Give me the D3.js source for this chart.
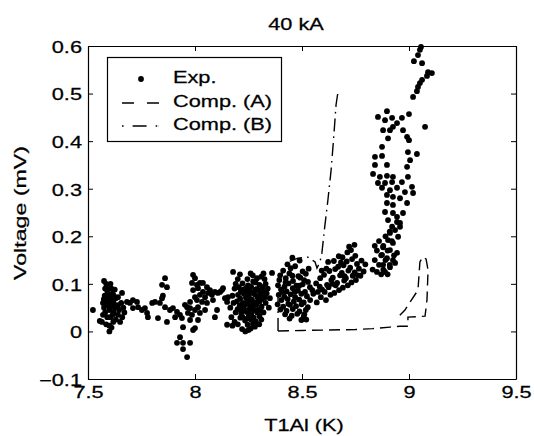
<!DOCTYPE html>
<html>
<head>
<meta charset="utf-8">
<script src="https://cdn.jsdelivr.net/npm/d3@7"></script>
<style>
  body { margin: 0; background: #fff; }
  svg { display: block; }
  text { font-family: "Liberation Sans", Arial, Helvetica, sans-serif; fill: #000; stroke: #000; stroke-width: 0.25px; }
</style>
</head>
<body>
<svg id="chart" width="534" height="436"></svg>
<script>
// axis setup
var xTicks = [7.5, 8, 8.5, 9, 9.5];
var xTickLabels = ["7.5", "8", "8.5", "9", "9.5"];
var yTicks = [-0.1, 0, 0.1, 0.2, 0.3, 0.4, 0.5, 0.6];
var yTickLabels = ["\u22120.1", "0", "0.1", "0.2", "0.3", "0.4", "0.5", "0.6"];
var legendLabels = ["Exp.", "Comp. (A)", "Comp. (B)"];

var expLeft = [[7.523,0.045],[7.555,0.022],[7.565,0.02],[7.575,0.106],[7.58,0.09],[7.585,0.1],[7.578,0.075],
  [7.57,0.06],[7.575,0.05],[7.58,0.04],[7.59,0.085],[7.59,0.065],[7.595,0.055],[7.6,0.07],[7.6,0.045],
  [7.605,0.03],[7.59,0.03],[7.6,0.012],[7.6,0.0],[7.61,0.008],[7.61,0.09],[7.605,0.1],[7.615,0.08],
  [7.62,0.06],[7.62,0.04],[7.625,0.05],[7.63,0.07],[7.63,0.025],[7.64,0.035],[7.64,0.055],[7.645,0.045],
  [7.65,0.02],[7.655,0.06],[7.66,0.03],[7.665,0.05],[7.67,0.04],[7.57,0.035],[7.585,0.015],[7.6,0.055],
  [7.612,0.068],[7.618,0.02],[7.625,0.088],[7.64,0.072],[7.659,0.081],[7.595,0.078],[7.585,0.058],
  [7.61,0.052],[7.62,0.075],[7.615,0.035],[7.592,0.092],[7.607,0.061],[7.574,0.068]];
var expBand = [[7.682,0.062],[7.696,0.06],[7.71,0.066],[7.729,0.062],[7.734,0.051],[7.71,0.049],
  [7.752,0.045],[7.766,0.049],[7.776,0.039],[7.78,0.03],[7.8,0.06],[7.813,0.062],[7.827,0.028],
  [7.836,0.06],[7.846,0.07],[7.86,0.051],[7.869,0.02],[7.883,0.045],[7.897,0.049],[7.907,0.03],
  [7.916,0.041],[7.93,0.035],[7.939,0.028],[7.86,0.112],[7.846,0.098],[7.869,0.093],[7.85,0.075]];
var expDip = [[7.93,-0.012],[7.916,-0.024],[7.944,-0.024],[7.977,-0.024],[7.944,-0.037],[7.963,-0.054],[7.944,0.009]];
var expNear8 = [[7.977,0.062],[7.986,0.102],[7.991,0.119],[8.0,0.112],[8.009,0.098],[8.014,0.091],
  [7.991,0.087],[8.0,0.072],[8.009,0.066],[8.023,0.077],[8.033,0.062],[8.014,0.051],[8.0,0.045],
  [7.986,0.035],[7.977,0.049],[7.991,0.003],[8.0,0.007],[8.014,0.024],[8.023,0.039],[8.037,0.083],
  [8.047,0.072],[8.056,0.06],[8.047,0.045],[8.061,0.081],[8.07,0.087],[8.079,0.077],[8.084,0.066],
  [8.093,0.083],[8.103,0.045],[8.093,0.03],[8.023,0.102],[8.037,0.102],[8.056,0.093],[7.963,0.051],
  [7.967,0.039],[7.953,0.056],[7.977,0.024],[8.107,0.081],[8.117,0.083],[8.126,0.087],[8.131,0.091],
  [8.14,0.07],[8.15,0.062],[8.154,0.072],[8.178,0.125],[8.15,0.014]];
var expMain = [[8.222,0.101],[8.248,0.097],[8.283,0.103],[8.301,0.098],[8.205,0.093],[8.237,0.09],
  [8.262,0.094],[8.288,0.089],[8.316,0.093],[8.214,0.084],[8.247,0.086],[8.268,0.082],[8.298,0.087],
  [8.322,0.083],[8.201,0.077],[8.228,0.079],[8.252,0.075],[8.279,0.078],[8.307,0.076],[8.211,0.069],
  [8.238,0.071],[8.266,0.067],[8.292,0.072],[8.314,0.068],[8.196,0.063],[8.223,0.06],[8.251,0.064],
  [8.276,0.061],[8.302,0.063],[8.209,0.054],[8.236,0.057],[8.258,0.053],[8.286,0.056],[8.311,0.052],
  [8.199,0.047],[8.227,0.049],[8.249,0.045],[8.271,0.048],[8.296,0.046],[8.216,0.039],[8.242,0.041],
  [8.263,0.037],[8.291,0.04],[8.221,0.031],[8.252,0.033],[8.274,0.029],[8.301,0.032],[8.234,0.023],
  [8.261,0.025],[8.284,0.021],[8.246,0.014],[8.271,0.016],[8.165,0.05],[8.17,0.03],[8.175,0.075],
  [8.18,0.06],[8.185,0.09],[8.19,0.04],[8.19,0.1],[8.175,0.012],[8.2,0.015],[8.185,0.02],[8.22,0.005],
  [8.235,0.0],[8.25,0.003],[8.26,0.006],[8.28,0.01],[8.3,0.015],[8.31,0.025],[8.32,0.04],
  [8.33,0.06],[8.335,0.08],[8.33,0.1],[8.325,0.11],[8.31,0.115],[8.29,0.112],[8.27,0.118],
  [8.245,0.11],[8.26,0.122],[8.32,0.122],[8.34,0.09],[8.345,0.05],[8.35,0.07],[8.2,0.11],
  [8.21,0.12],[8.36,0.123],[8.237,0.083],[8.262,0.064],[8.282,0.088],[8.232,0.058],[8.257,0.036],
  [8.307,0.043],[8.212,0.029],[8.272,0.105],[8.243,0.068],[8.268,0.052],[8.293,0.062],[8.226,0.088],
  [8.255,0.085],[8.278,0.044],[8.218,0.045],[8.304,0.081],[8.246,0.028],[8.327,0.072]];
var expMid = [[8.432,0.141],[8.468,0.137],[8.412,0.128],[8.447,0.133],[8.503,0.126],[8.398,0.118],
  [8.441,0.122],[8.483,0.116],[8.518,0.121],[8.394,0.108],[8.424,0.112],[8.458,0.106],[8.492,0.113],
  [8.528,0.104],[8.388,0.097],[8.418,0.094],[8.437,0.101],[8.474,0.096],[8.503,0.099],[8.537,0.093],
  [8.402,0.088],[8.428,0.084],[8.457,0.091],[8.481,0.086],[8.514,0.083],[8.548,0.087],[8.391,0.077],
  [8.417,0.073],[8.447,0.078],[8.468,0.072],[8.497,0.079],[8.523,0.074],[8.553,0.079],[8.404,0.066],
  [8.433,0.068],[8.462,0.063],[8.487,0.067],[8.508,0.061],[8.538,0.066],[8.386,0.057],[8.412,0.052],
  [8.444,0.056],[8.472,0.053],[8.498,0.057],[8.527,0.051],[8.399,0.046],[8.428,0.043],[8.457,0.047],
  [8.488,0.042],[8.518,0.045],[8.421,0.036],[8.452,0.033],[8.478,0.037],[8.508,0.031],[8.442,0.027],
  [8.497,0.024],[8.52,0.025],[8.511,0.036],[8.455,0.155],[8.489,0.149],[8.531,0.132],[8.409,0.083],
  [8.466,0.083],[8.436,0.058],[8.487,0.096],[8.455,0.117],[8.423,0.103],[8.51,0.108]];
var expRamp = [[8.569,0.061],[8.574,0.083],[8.566,0.101],[8.588,0.072],[8.594,0.088],[8.585,0.112],
  [8.592,0.128],[8.612,0.066],[8.606,0.083],[8.617,0.098],[8.603,0.119],[8.633,0.077],[8.624,0.093],
  [8.637,0.108],[8.628,0.127],[8.622,0.146],[8.651,0.081],[8.657,0.097],[8.644,0.113],[8.655,0.131],
  [8.649,0.148],[8.673,0.087],[8.664,0.102],[8.678,0.118],[8.669,0.136],[8.672,0.158],[8.691,0.092],
  [8.697,0.107],[8.686,0.123],[8.694,0.139],[8.689,0.156],[8.714,0.097],[8.705,0.112],[8.717,0.128],
  [8.709,0.147],[8.712,0.166],[8.731,0.103],[8.737,0.117],[8.725,0.134],[8.734,0.152],[8.729,0.171],
  [8.752,0.108],[8.746,0.124],[8.757,0.142],[8.749,0.159],[8.773,0.117],[8.766,0.132],[8.778,0.149],
  [8.788,0.126],[8.796,0.141],[8.745,0.182],[8.72,0.178],[8.583,0.094],[8.641,0.1],[8.699,0.116],
  [8.761,0.118],[8.614,0.132],[8.682,0.145]];
var expKnee = [[8.83,0.13],[8.84,0.15],[8.85,0.17],[8.86,0.14],[8.86,0.19],[8.87,0.16],[8.88,0.13],
  [8.88,0.18],[8.89,0.15],[8.9,0.12],[8.9,0.17],[8.91,0.14],[8.92,0.19],[8.93,0.16],[8.85,0.125],
  [8.87,0.12],[8.89,0.2],[8.91,0.21],[8.84,0.18]];
var expRise = [[8.958,0.228],[8.935,0.213],[8.911,0.207],[8.949,0.199],[8.902,0.192],[8.925,0.186],
  [8.879,0.177],[8.911,0.171],[8.944,0.165],[8.874,0.161],[8.897,0.154],[8.925,0.15],[8.879,0.14],
  [8.911,0.135],[8.888,0.125],[8.935,0.144],[8.874,0.388],[8.841,0.367],[8.874,0.369],[8.995,0.377],
  [9.037,0.373],[9.005,0.36],[8.841,0.35],[8.897,0.35],[8.991,0.346],[8.832,0.331],[8.864,0.325],
  [8.897,0.327],[8.925,0.325],[8.995,0.325],[8.855,0.312],[8.888,0.312],[8.921,0.314],[8.967,0.314],
  [9.014,0.304],[8.874,0.302],[8.911,0.297],[8.944,0.302],[8.981,0.293],[8.897,0.287],[8.925,0.283],
  [8.958,0.28],[9.019,0.291],[8.897,0.27],[8.925,0.266],[8.991,0.27],[8.888,0.251],[8.925,0.249],
  [8.972,0.249],[8.902,0.234],[8.944,0.23],[8.921,0.22],[8.958,0.22],[8.944,0.241]];
var expTop = [[8.897,0.463],[8.855,0.451],[8.888,0.444],[8.921,0.449],[8.944,0.438],[8.967,0.449],
  [9.0,0.457],[9.075,0.43],[8.879,0.423],[8.911,0.423],[8.902,0.406],[8.972,0.423],[8.991,0.409],
  [9.0,0.402],[8.925,0.43],[9.051,0.592],[9.042,0.581],[9.023,0.568],[9.061,0.564],[9.089,0.545],
  [9.107,0.543],[9.084,0.537],[9.061,0.529],[9.051,0.522],[9.042,0.514],[9.037,0.505],[9.019,0.493],
  [9.056,0.598]];

// computed curves
var compATemp = [8.388, 8.5, 8.631, 8.75, 8.83, 8.911, 8.958, 8.995, 8.995, 9.075, 9.084, 9.089, 9.08, 9.065, 9.051, 9.042, 8.981, 8.949];
var compAVolt = [0.001, 0.002, 0.003, 0.004, 0.006, 0.009, 0.011, 0.011, 0.03, 0.032, 0.066, 0.129, 0.152, 0.157, 0.146, 0.087, 0.045, 0.03];
var compBTemp = [8.388, 8.388, 8.42, 8.435, 8.481, 8.528, 8.561, 8.57, 8.584, 8.593, 8.605, 8.62, 8.636, 8.648, 8.659, 8.668];
var compBVolt = [0.001, 0.112, 0.129, 0.146, 0.154, 0.156, 0.146, 0.133, 0.146, 0.165, 0.215, 0.272, 0.339, 0.407, 0.476, 0.503];

var expPoints = [].concat(expLeft, expBand, expDip, expNear8, expMain, expMid, expRamp, expKnee, expRise, expTop);

var svg = d3.select("#chart");
var sx = 1.36; // the scanned font runs wide

var x = d3.scaleLinear().domain([7.5, 9.5]).range([88, 516]);
var y = d3.scaleLinear().domain([-0.1, 0.6]).range([379, 46]);

// data
svg.append("g")
    .selectAll("circle")
    .data(expPoints)
    .enter().append("circle")
    .attr("cx", function (d) { return x(d[0]); })
    .attr("cy", function (d) { return y(d[1]); })
    .attr("r", 2.9)
    .attr("fill", "#000");

var line = d3.line()
    .x(function (d) { return x(d[0]); })
    .y(function (d) { return y(d[1]); });

svg.append("path")
    .datum(d3.zip(compATemp, compAVolt))
    .attr("d", line)
    .attr("fill", "none")
    .attr("stroke", "#000")
    .attr("stroke-width", 1.4)
    .attr("stroke-dasharray", "11,6");

svg.append("path")
    .datum(d3.zip(compBTemp, compBVolt))
    .attr("d", line)
    .attr("fill", "none")
    .attr("stroke", "#000")
    .attr("stroke-width", 1.4)
    .attr("stroke-dasharray", "13,5,1.6,5");

// axes, ticks pointing inward on all four sides
function styleAxis(g) {
    g.selectAll("path.domain").attr("stroke", "#000").attr("stroke-width", 1.2);
    g.selectAll(".tick line").attr("stroke", "#000");
    g.selectAll("text").attr("font-size", 16).attr("font-family", null).attr("fill", null);
}

svg.append("g")
    .attr("transform", "translate(0,379)")
    .call(d3.axisBottom(x).tickValues(xTicks).tickSize(-5).tickSizeOuter(0).tickPadding(8)
        .tickFormat(function (d, i) { return xTickLabels[i]; }))
    .call(styleAxis)
    .selectAll("text").attr("transform", "scale(" + sx + ",1)");

svg.append("g")
    .attr("transform", "translate(0,46)")
    .call(d3.axisTop(x).tickValues(xTicks).tickSize(-5).tickSizeOuter(0).tickFormat(""))
    .call(styleAxis);

svg.append("g")
    .attr("transform", "translate(88,0)")
    .call(d3.axisLeft(y).tickValues(yTicks).tickSize(-5).tickSizeOuter(0).tickPadding(6)
        .tickFormat(function (d, i) { return yTickLabels[i]; }))
    .call(styleAxis)
    .selectAll("text")
    .attr("x", -6 / sx)
    .attr("dy", "0.4em")
    .attr("transform", "scale(" + sx + ",1)");

svg.append("g")
    .attr("transform", "translate(516,0)")
    .call(d3.axisRight(y).tickValues(yTicks).tickSize(-5).tickSizeOuter(0).tickFormat(""))
    .call(styleAxis);

// titles
svg.append("text")
    .attr("transform", "translate(296,30) scale(" + sx + ",1)")
    .attr("text-anchor", "middle")
    .attr("font-size", 16)
    .text("40 kA");

svg.append("text")
    .attr("transform", "translate(304,431) scale(" + sx + ",1)")
    .attr("text-anchor", "middle")
    .attr("font-size", 16)
    .text("T1Al (K)");

svg.append("text")
    .attr("transform", "translate(26,213) rotate(-90) scale(1.45,1)")
    .attr("text-anchor", "middle")
    .attr("font-size", 16)
    .text("Voltage (mV)");

// legend
var legend = svg.append("g");
legend.append("rect")
    .attr("x", 107.5).attr("y", 57.5)
    .attr("width", 174).attr("height", 84)
    .attr("fill", "#fff").attr("stroke", "#000").attr("stroke-width", 1.2);

var rowY = [77, 101, 124];
legend.append("circle").attr("cx", 141).attr("cy", rowY[0] + 2).attr("r", 2.9).attr("fill", "#000");
legend.append("line")
    .attr("x1", 122).attr("x2", 159).attr("y1", rowY[1] + 2).attr("y2", rowY[1] + 2)
    .attr("stroke", "#000").attr("stroke-width", 1.4).attr("stroke-dasharray", "12,13");
legend.append("line")
    .attr("x1", 122).attr("x2", 159).attr("y1", rowY[2] + 2).attr("y2", rowY[2] + 2)
    .attr("stroke", "#000").attr("stroke-width", 1.4).attr("stroke-dasharray", "1.6,9,14,9,1.6");

legend.selectAll("text.lab")
    .data(legendLabels)
    .enter().append("text")
    .attr("class", "lab")
    .attr("transform", function (d, i) { return "translate(173," + (rowY[i] + 6) + ") scale(" + sx + ",1)"; })
    .attr("font-size", 16)
    .text(function (d) { return d; });
</script>
</body>
</html>
